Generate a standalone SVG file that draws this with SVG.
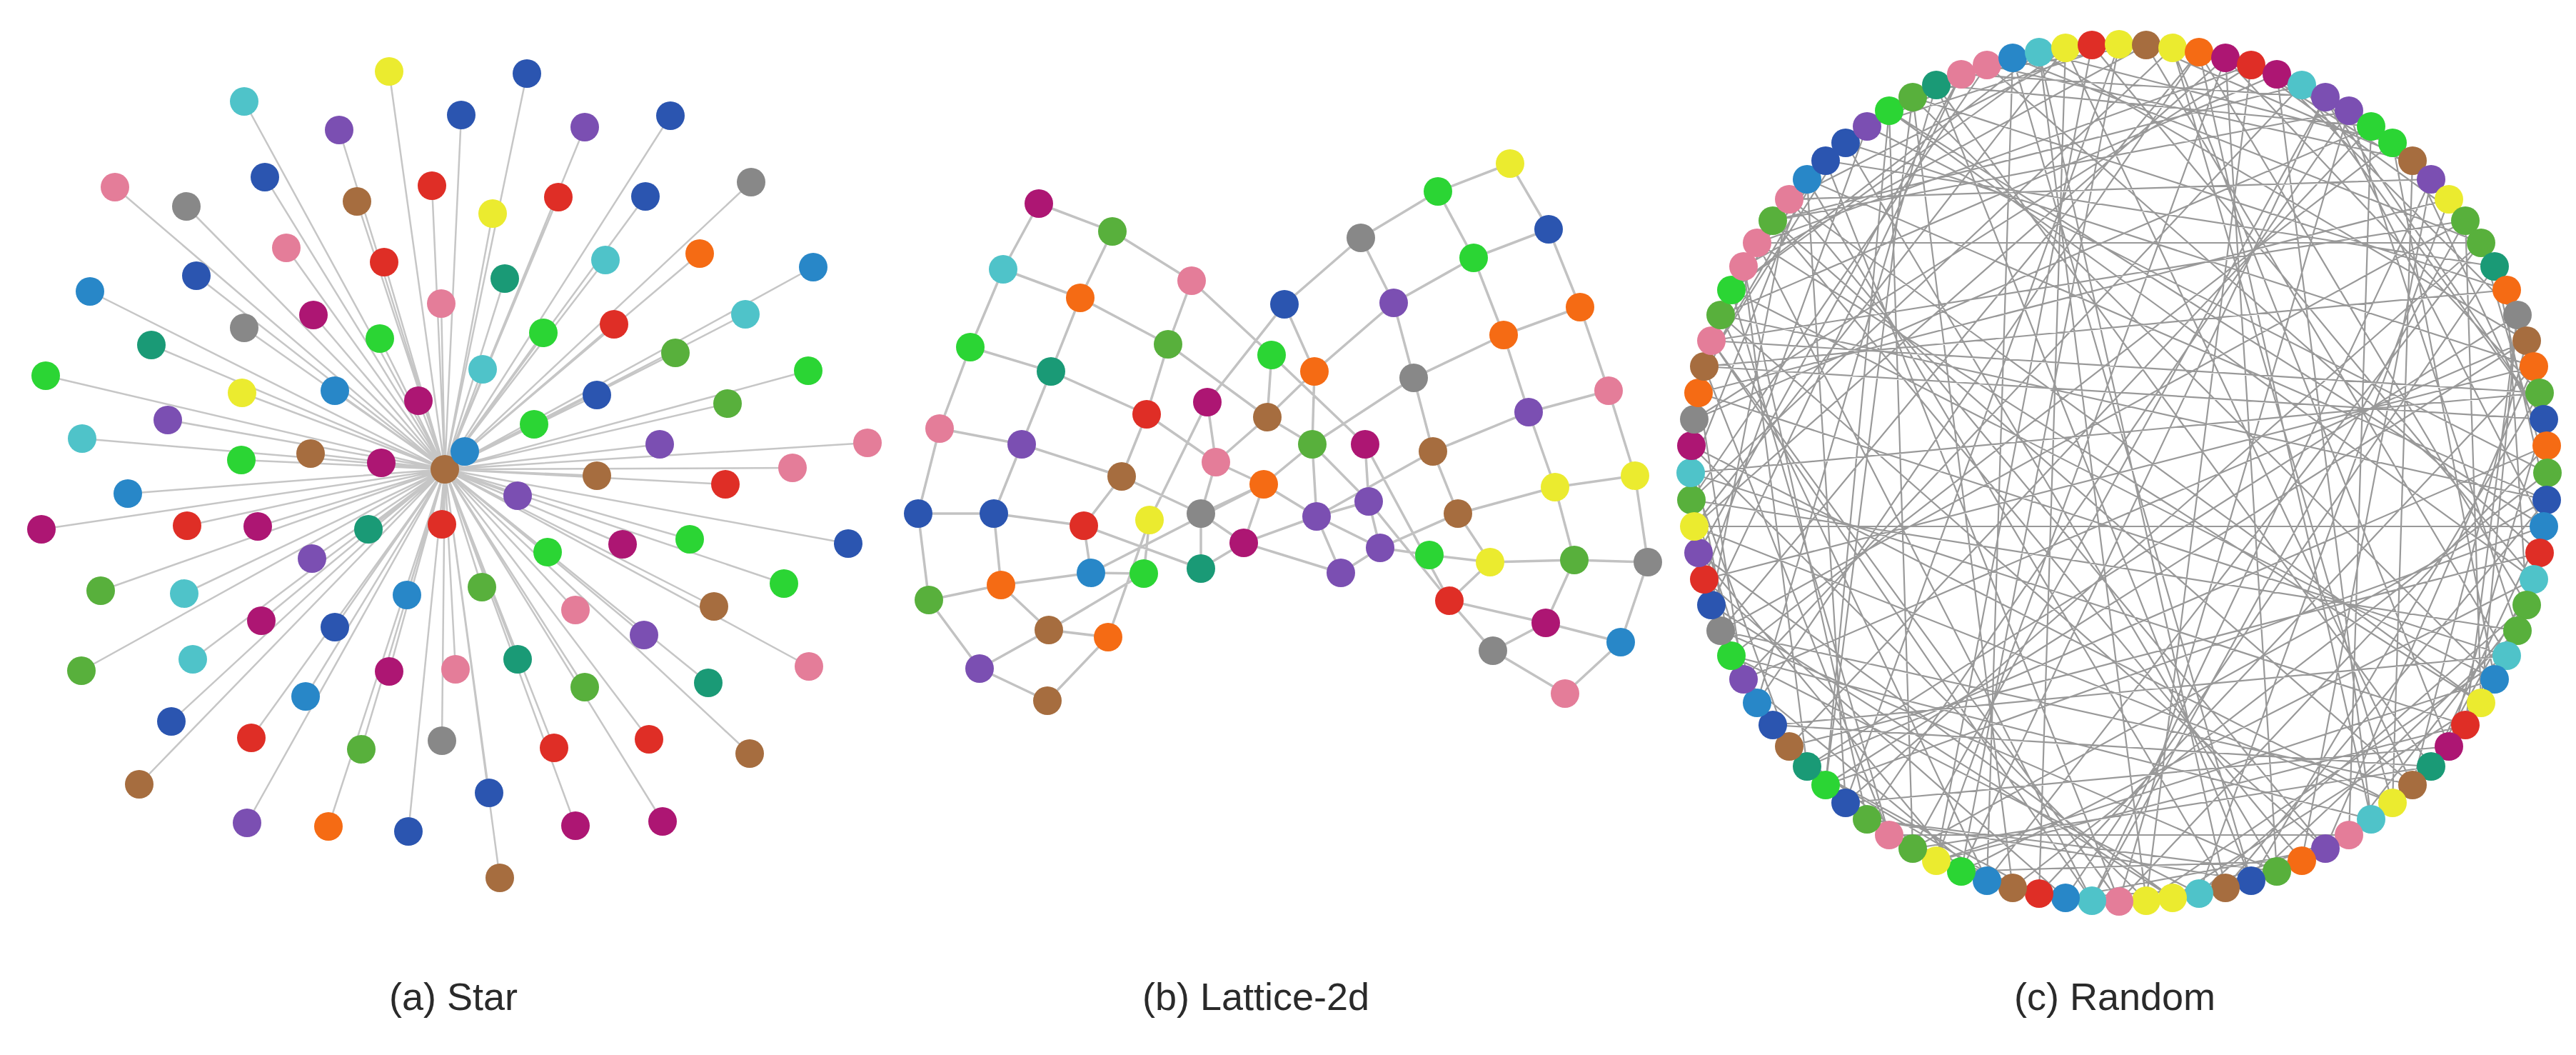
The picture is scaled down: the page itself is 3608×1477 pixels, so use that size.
<svg xmlns="http://www.w3.org/2000/svg" width="3608" height="1477" viewBox="0 0 3608 1477">
<style>
.bg{fill:#ffffff}
.es{stroke:#c6c6c6;stroke-width:2.5;fill:none}
.el{stroke:#c2c2c2;stroke-width:3.5;fill:none}
.er{stroke:#999999;stroke-width:2.2;fill:none}
circle{stroke:none}
.yel{fill:#ebeb2f}.cya{fill:#4fc3c9}.pur{fill:#7b4fb2}.pnk{fill:#e47d99}.gry{fill:#888888}.blu{fill:#2b55b0}.brn{fill:#a66d3f}.red{fill:#df2e26}.stb{fill:#2887c8}.mag{fill:#ad1673}.grn{fill:#2bd534}.tea{fill:#1a9a76}.olv{fill:#58b03c}.org{fill:#f56b14}
.lbl{font-family:"Liberation Sans","DejaVu Sans",sans-serif;font-size:54px;fill:#2a2a2a;text-anchor:middle}
</style>
<rect class="bg" x="0" y="0" width="3608" height="1477"/>
<g id="connectors">
<path id="star-edges" class="es" d="M623 657L545 100M623 657L342 142M623 657L475 182M623 657L161 262M623 657L261 289M623 657L371 248M623 657L500 282M623 657L605 260M623 657L401 347M623 657L538 367M623 657L275 386M623 657L126 408M623 657L439 441M623 657L618 425M623 657L342 459M623 657L532 474M623 657L212 483M623 657L64 526M623 657L339 550M623 657L469 547M623 657L586 561M623 657L235 588M623 657L115 614M623 657L435 635M623 657L338 644M623 657L534 648M623 657L179 691M623 657L651 632M623 657L738 103M623 657L646 161M623 657L819 178M623 657L939 162M623 657L690 299M623 657L782 276M623 657L904 275M623 657L1052 255M623 657L707 390M623 657L848 364M623 657L980 355M623 657L1139 374M623 657L761 466M623 657L860 454M623 657L1044 440M623 657L946 494M623 657L676 517M623 657L836 553M623 657L1132 519M623 657L1019 565M623 657L748 594M623 657L924 622M623 657L1215 620M623 657L836 666M623 657L1110 655M623 657L1016 678M623 657L725 694M623 657L58 741M623 657L262 736M623 657L361 737M623 657L516 741M623 657L619 734M623 657L437 782M623 657L141 827M623 657L258 831M623 657L570 833M623 657L366 869M623 657L469 878M623 657L270 923M623 657L114 939M623 657L545 940M623 657L638 937M623 657L428 975M623 657L240 1010M623 657L352 1033M623 657L506 1049M623 657L619 1037M623 657L195 1098M623 657L346 1152M623 657L460 1157M623 657L572 1164M623 657L767 773M623 657L872 762M623 657L966 755M623 657L1188 761M623 657L675 822M623 657L1098 817M623 657L1000 849M623 657L806 854M623 657L902 889M623 657L1133 933M623 657L725 923M623 657L819 962M623 657L992 956M623 657L776 1047M623 657L909 1035M623 657L1050 1055M623 657L685 1110M623 657L806 1156M623 657L928 1150M623 657L700 1229"/>
<path id="lattice-edges" class="el" d="M1455 285L1405 377M1405 377L1359 486M1359 486L1316 600M1316 600L1286 719M1286 719L1301 840M1301 840L1372 936M1372 936L1467 981M1558 324L1513 417M1513 417L1472 520M1472 520L1431 622M1431 622L1392 719M1392 719L1402 819M1402 819L1469 882M1469 882L1552 892M1669 393L1636 482M1636 482L1606 580M1606 580L1571 667M1571 667L1518 736M1518 736L1528 802M1528 802L1602 803M1602 803L1610 728M1455 285L1558 324M1558 324L1669 393M1405 377L1513 417M1513 417L1636 482M1359 486L1472 520M1472 520L1606 580M1316 600L1431 622M1431 622L1571 667M1286 719L1392 719M1392 719L1518 736M1301 840L1402 819M1402 819L1528 802M1372 936L1469 882M1469 882L1602 803M1467 981L1552 892M1552 892L1610 728M1669 393L1781 497M1781 497L1912 622M1781 497L1775 584M1636 482L1775 584M1775 584L1841 520M1775 584L1838 622M1775 584L1703 647M1799 426L1841 520M1799 426L1691 563M1799 426L1906 333M1841 520L1838 622M1841 520L1952 424M1838 622L1980 529M1838 622L1844 723M1838 622L1770 678M1606 580L1703 647M1691 563L1703 647M1691 563L1610 728M1703 647L1770 678M1703 647L1682 719M1571 667L1682 719M1682 719L1682 796M1682 719L1742 760M1682 719L1770 678M1518 736L1682 796M1682 796L1742 760M1770 678L1742 760M1770 678L1844 723M1742 760L1844 723M1742 760L1878 802M1844 723L1878 802M1844 723L1917 702M2007 632L1844 723M1912 622L1917 702M1912 622L2030 841M1917 702L2030 841M1917 702L1933 767M1933 767L1878 802M1933 767L2002 777M2002 777L2087 787M2042 719L1933 767M1528 802L1770 678M1844 723L1933 767M1917 702L1838 622M2115 229L2169 321M2169 321L2213 430M2213 430L2253 547M2253 547L2290 666M2290 666L2308 787M2308 787L2270 899M2270 899L2192 971M2014 268L2064 361M2064 361L2106 469M2106 469L2141 577M2141 577L2178 682M2178 682L2205 784M2205 784L2165 872M2165 872L2091 911M1906 333L1952 424M1952 424L1980 529M1980 529L2007 632M2007 632L2042 719M2042 719L2087 787M2087 787L2030 841M2115 229L2014 268M2014 268L1906 333M2169 321L2064 361M2064 361L1952 424M2213 430L2106 469M2106 469L1980 529M2253 547L2141 577M2141 577L2007 632M2290 666L2178 682M2178 682L2042 719M2308 787L2205 784M2205 784L2087 787M2270 899L2165 872M2165 872L2030 841M2192 971L2091 911M2091 911L2030 841"/>
<path id="random-edges" class="er" d="M3557 774L3494 951M3453 1015L2712 1205M3257 1188L2410 441M3006 1261L3153 91M2747 1220L3549 811M2531 1073L2856 1251M2397 847L2506 279M2373 587L3321 177M2461 340L3475 984M2646 155L2679 1188M2893 67L2425 406M3153 91L3453 309M3379 225L3351 1124M3526 441L2531 1073M3567 700L2531 251M3494 951L3351 200M3321 1147L3453 1015M3080 1251L2425 918M2819 1243L2679 136M2585 1124L3475 340M2425 918L3321 1147M2368 662L2506 1045M2425 406L2856 73M2585 200L3549 513M2819 81L3153 1233M3080 73L2410 883M3321 177L2712 119M3494 373L3567 700M3567 624L2968 1262M3526 883L2369 700M3379 1099L2893 67M3153 1233L3557 550M2893 1257L3117 1243M2646 1169L2387 513M2461 984L3080 73M2373 737L3563 737M2397 477L2930 1261M2531 251L2368 662M2747 104L3257 136M3006 63L3511 918M3257 136L2747 1220M3453 309L2397 477M3557 550L3117 81M3549 811L3405 1073M3430 1045L2585 1124M3224 1205L2483 309M2968 1262L3290 155M2712 1205L3494 951M2506 1045L2712 1205M2387 811L2615 177M2379 550L3430 279M2483 309L3379 1099M2679 136L2557 1099M2930 63L2506 279M3189 104L3526 441M3405 251L3224 1205M3539 477L2442 951M3563 737L2646 155M3475 984L3453 309M3290 1169L3043 1257M3043 1257L2379 774M2783 1233L2819 81M2557 1099L3539 477M2410 883L3189 1220M2369 624L2425 918M2442 373L3006 63M2615 177L3568 662M2856 73L3006 1261M3117 81L2373 737M3351 200L2856 73M3511 406L3539 847M3568 662L2819 1243M3511 918L2379 550M3351 1124L3043 67M3117 1243L3567 700M2856 1251L2646 1169M2615 1147L2442 373M2442 951L3224 119M2369 700L3526 883M2410 441L2783 1233M2557 225L2387 513M2783 91L3379 225M3043 67L3430 1045M3290 155L2615 1147M3475 340L2461 340M3563 587L3257 136M3539 847L3290 1169M3405 1073L2483 1015M3189 1220L2585 200M2930 1261L3405 251M2679 1188L3405 1073M2483 1015L2397 847M2379 774L2747 104M2387 513L3511 406M2506 279L3257 1188M2712 119L2461 984M2968 62L2615 177M3224 119L3563 587M3430 279L3080 1251M3549 513L2387 811M3557 774L2783 91M3453 1015L3526 441M3257 1188L2893 1257M3006 1261L2369 624M2747 1220L2968 62M2531 1073L3567 624M2397 847L3043 1257M2373 587L2379 774M2461 340L3153 91M2646 155L3549 811M2893 67L2856 1251M3153 91L2373 587M3379 225L3006 63M3526 441L3475 984M3567 700L2679 1188M3494 951L2425 406M3321 1147L3189 104M3080 1251L3539 847M2819 1243L2531 1073M2585 1124L2531 251M2425 918L3351 200M2368 662L3453 1015M2425 406L2646 1169M2585 200L2442 373M2819 81L3475 340M3080 73L3321 1147M3321 177L2506 1045M3494 373L2557 225M3567 624L3379 225M3526 883L3153 1233M3379 1099L2410 883M3153 1233L2712 119M2893 1257L3494 373M2646 1169L3290 1169M2461 984L2369 700M2373 737L2893 67M2397 477L3557 550M2531 251L3117 1243M2747 104L2397 847M3006 63L2747 104M3257 136L3563 737M3453 309L2930 1261M3557 550L2368 662M3549 811L2930 63M3430 1045L3563 587M3224 1205L2747 1220M2968 1262L2397 477M2712 1205L3117 81M2506 1045L3557 774M2387 811L2893 1257M2379 550L2483 309M2483 309L3290 155M2679 136L3494 951M2930 63L2712 1205M3189 104L2410 441M3405 251L3153 91M3539 477L3379 1099M3563 737L2557 1099M3475 984L2506 279M3290 1169L3321 177M3043 1257L3475 984M2783 1233L2442 951M2557 1099L2646 155M2410 883L3453 309M2369 624L3351 1124M2442 373L2531 1073M2615 177L2819 81M2856 73L3539 477M3117 81L3189 1220M3351 200L2425 918M3511 406L2679 136M3568 662L3475 340M3511 918L3006 1261M3351 1124L2373 737M3117 1243L2856 73M2856 1251L3549 513M2615 1147L3153 1233M2442 951L2379 550M2369 700L3043 67M2410 441L3567 700M2557 225L2968 1262M2783 91L2369 700M3043 67L3224 119M3290 155L3526 883M3475 340L2783 1233M3563 587L2387 513M3539 847L3080 73M3405 1073L3563 737M3189 1220L2615 1147M2930 1261L2461 340M2679 1188L3257 136M2483 1015L3511 918M2379 774L2747 1220M2387 513L2585 200M2506 279L3405 251M2712 119L3405 1073M2968 62L2585 1124M3224 119L2483 309M3430 279L3290 155M3549 513L3257 1188"/>
</g>
<g id="star-nodes">
<g id="star-center"><circle class="brn" cx="623" cy="657" r="20"/></g>
<g id="star-1"><circle class="yel" cx="545" cy="100" r="20"/></g>
<g id="star-2"><circle class="cya" cx="342" cy="142" r="20"/></g>
<g id="star-3"><circle class="pur" cx="475" cy="182" r="20"/></g>
<g id="star-4"><circle class="pnk" cx="161" cy="262" r="20"/></g>
<g id="star-5"><circle class="gry" cx="261" cy="289" r="20"/></g>
<g id="star-6"><circle class="blu" cx="371" cy="248" r="20"/></g>
<g id="star-7"><circle class="brn" cx="500" cy="282" r="20"/></g>
<g id="star-8"><circle class="red" cx="605" cy="260" r="20"/></g>
<g id="star-9"><circle class="pnk" cx="401" cy="347" r="20"/></g>
<g id="star-10"><circle class="red" cx="538" cy="367" r="20"/></g>
<g id="star-11"><circle class="blu" cx="275" cy="386" r="20"/></g>
<g id="star-12"><circle class="stb" cx="126" cy="408" r="20"/></g>
<g id="star-13"><circle class="mag" cx="439" cy="441" r="20"/></g>
<g id="star-14"><circle class="pnk" cx="618" cy="425" r="20"/></g>
<g id="star-15"><circle class="gry" cx="342" cy="459" r="20"/></g>
<g id="star-16"><circle class="grn" cx="532" cy="474" r="20"/></g>
<g id="star-17"><circle class="tea" cx="212" cy="483" r="20"/></g>
<g id="star-18"><circle class="grn" cx="64" cy="526" r="20"/></g>
<g id="star-19"><circle class="yel" cx="339" cy="550" r="20"/></g>
<g id="star-20"><circle class="stb" cx="469" cy="547" r="20"/></g>
<g id="star-21"><circle class="mag" cx="586" cy="561" r="20"/></g>
<g id="star-22"><circle class="pur" cx="235" cy="588" r="20"/></g>
<g id="star-23"><circle class="cya" cx="115" cy="614" r="20"/></g>
<g id="star-24"><circle class="brn" cx="435" cy="635" r="20"/></g>
<g id="star-25"><circle class="grn" cx="338" cy="644" r="20"/></g>
<g id="star-26"><circle class="mag" cx="534" cy="648" r="20"/></g>
<g id="star-27"><circle class="stb" cx="179" cy="691" r="20"/></g>
<g id="star-28"><circle class="stb" cx="651" cy="632" r="20"/></g>
<g id="star-29"><circle class="blu" cx="738" cy="103" r="20"/></g>
<g id="star-30"><circle class="blu" cx="646" cy="161" r="20"/></g>
<g id="star-31"><circle class="pur" cx="819" cy="178" r="20"/></g>
<g id="star-32"><circle class="blu" cx="939" cy="162" r="20"/></g>
<g id="star-33"><circle class="yel" cx="690" cy="299" r="20"/></g>
<g id="star-34"><circle class="red" cx="782" cy="276" r="20"/></g>
<g id="star-35"><circle class="blu" cx="904" cy="275" r="20"/></g>
<g id="star-36"><circle class="gry" cx="1052" cy="255" r="20"/></g>
<g id="star-37"><circle class="tea" cx="707" cy="390" r="20"/></g>
<g id="star-38"><circle class="cya" cx="848" cy="364" r="20"/></g>
<g id="star-39"><circle class="org" cx="980" cy="355" r="20"/></g>
<g id="star-40"><circle class="stb" cx="1139" cy="374" r="20"/></g>
<g id="star-41"><circle class="grn" cx="761" cy="466" r="20"/></g>
<g id="star-42"><circle class="red" cx="860" cy="454" r="20"/></g>
<g id="star-43"><circle class="cya" cx="1044" cy="440" r="20"/></g>
<g id="star-44"><circle class="olv" cx="946" cy="494" r="20"/></g>
<g id="star-45"><circle class="cya" cx="676" cy="517" r="20"/></g>
<g id="star-46"><circle class="blu" cx="836" cy="553" r="20"/></g>
<g id="star-47"><circle class="grn" cx="1132" cy="519" r="20"/></g>
<g id="star-48"><circle class="olv" cx="1019" cy="565" r="20"/></g>
<g id="star-49"><circle class="grn" cx="748" cy="594" r="20"/></g>
<g id="star-50"><circle class="pur" cx="924" cy="622" r="20"/></g>
<g id="star-51"><circle class="pnk" cx="1215" cy="620" r="20"/></g>
<g id="star-52"><circle class="brn" cx="836" cy="666" r="20"/></g>
<g id="star-53"><circle class="pnk" cx="1110" cy="655" r="20"/></g>
<g id="star-54"><circle class="red" cx="1016" cy="678" r="20"/></g>
<g id="star-55"><circle class="pur" cx="725" cy="694" r="20"/></g>
<g id="star-56"><circle class="mag" cx="58" cy="741" r="20"/></g>
<g id="star-57"><circle class="red" cx="262" cy="736" r="20"/></g>
<g id="star-58"><circle class="mag" cx="361" cy="737" r="20"/></g>
<g id="star-59"><circle class="tea" cx="516" cy="741" r="20"/></g>
<g id="star-60"><circle class="red" cx="619" cy="734" r="20"/></g>
<g id="star-61"><circle class="pur" cx="437" cy="782" r="20"/></g>
<g id="star-62"><circle class="olv" cx="141" cy="827" r="20"/></g>
<g id="star-63"><circle class="cya" cx="258" cy="831" r="20"/></g>
<g id="star-64"><circle class="stb" cx="570" cy="833" r="20"/></g>
<g id="star-65"><circle class="mag" cx="366" cy="869" r="20"/></g>
<g id="star-66"><circle class="blu" cx="469" cy="878" r="20"/></g>
<g id="star-67"><circle class="cya" cx="270" cy="923" r="20"/></g>
<g id="star-68"><circle class="olv" cx="114" cy="939" r="20"/></g>
<g id="star-69"><circle class="mag" cx="545" cy="940" r="20"/></g>
<g id="star-70"><circle class="pnk" cx="638" cy="937" r="20"/></g>
<g id="star-71"><circle class="stb" cx="428" cy="975" r="20"/></g>
<g id="star-72"><circle class="blu" cx="240" cy="1010" r="20"/></g>
<g id="star-73"><circle class="red" cx="352" cy="1033" r="20"/></g>
<g id="star-74"><circle class="olv" cx="506" cy="1049" r="20"/></g>
<g id="star-75"><circle class="gry" cx="619" cy="1037" r="20"/></g>
<g id="star-76"><circle class="brn" cx="195" cy="1098" r="20"/></g>
<g id="star-77"><circle class="pur" cx="346" cy="1152" r="20"/></g>
<g id="star-78"><circle class="org" cx="460" cy="1157" r="20"/></g>
<g id="star-79"><circle class="blu" cx="572" cy="1164" r="20"/></g>
<g id="star-80"><circle class="grn" cx="767" cy="773" r="20"/></g>
<g id="star-81"><circle class="mag" cx="872" cy="762" r="20"/></g>
<g id="star-82"><circle class="grn" cx="966" cy="755" r="20"/></g>
<g id="star-83"><circle class="blu" cx="1188" cy="761" r="20"/></g>
<g id="star-84"><circle class="olv" cx="675" cy="822" r="20"/></g>
<g id="star-85"><circle class="grn" cx="1098" cy="817" r="20"/></g>
<g id="star-86"><circle class="brn" cx="1000" cy="849" r="20"/></g>
<g id="star-87"><circle class="pnk" cx="806" cy="854" r="20"/></g>
<g id="star-88"><circle class="pur" cx="902" cy="889" r="20"/></g>
<g id="star-89"><circle class="pnk" cx="1133" cy="933" r="20"/></g>
<g id="star-90"><circle class="tea" cx="725" cy="923" r="20"/></g>
<g id="star-91"><circle class="olv" cx="819" cy="962" r="20"/></g>
<g id="star-92"><circle class="tea" cx="992" cy="956" r="20"/></g>
<g id="star-93"><circle class="red" cx="776" cy="1047" r="20"/></g>
<g id="star-94"><circle class="red" cx="909" cy="1035" r="20"/></g>
<g id="star-95"><circle class="brn" cx="1050" cy="1055" r="20"/></g>
<g id="star-96"><circle class="blu" cx="685" cy="1110" r="20"/></g>
<g id="star-97"><circle class="mag" cx="806" cy="1156" r="20"/></g>
<g id="star-98"><circle class="mag" cx="928" cy="1150" r="20"/></g>
<g id="star-99"><circle class="brn" cx="700" cy="1229" r="20"/></g>
</g>
<g id="lattice-nodes">
<g id="lat-A"><circle class="mag" cx="1455" cy="285" r="20"/></g>
<g id="lat-B"><circle class="olv" cx="1558" cy="324" r="20"/></g>
<g id="lat-C"><circle class="cya" cx="1405" cy="377" r="20"/></g>
<g id="lat-D"><circle class="org" cx="1513" cy="417" r="20"/></g>
<g id="lat-E"><circle class="pnk" cx="1669" cy="393" r="20"/></g>
<g id="lat-F"><circle class="grn" cx="1359" cy="486" r="20"/></g>
<g id="lat-G"><circle class="tea" cx="1472" cy="520" r="20"/></g>
<g id="lat-H"><circle class="olv" cx="1636" cy="482" r="20"/></g>
<g id="lat-I"><circle class="pnk" cx="1316" cy="600" r="20"/></g>
<g id="lat-J"><circle class="pur" cx="1431" cy="622" r="20"/></g>
<g id="lat-K"><circle class="red" cx="1606" cy="580" r="20"/></g>
<g id="lat-L"><circle class="brn" cx="1571" cy="667" r="20"/></g>
<g id="lat-M"><circle class="blu" cx="1286" cy="719" r="20"/></g>
<g id="lat-N"><circle class="blu" cx="1392" cy="719" r="20"/></g>
<g id="lat-O"><circle class="red" cx="1518" cy="736" r="20"/></g>
<g id="lat-P"><circle class="yel" cx="1610" cy="728" r="20"/></g>
<g id="lat-Q"><circle class="stb" cx="1528" cy="802" r="20"/></g>
<g id="lat-R"><circle class="grn" cx="1602" cy="803" r="20"/></g>
<g id="lat-S"><circle class="olv" cx="1301" cy="840" r="20"/></g>
<g id="lat-T"><circle class="org" cx="1402" cy="819" r="20"/></g>
<g id="lat-U"><circle class="brn" cx="1469" cy="882" r="20"/></g>
<g id="lat-V"><circle class="org" cx="1552" cy="892" r="20"/></g>
<g id="lat-W"><circle class="pur" cx="1372" cy="936" r="20"/></g>
<g id="lat-X"><circle class="brn" cx="1467" cy="981" r="20"/></g>
<g id="lat-Y"><circle class="mag" cx="1691" cy="563" r="20"/></g>
<g id="lat-Z"><circle class="pnk" cx="1703" cy="647" r="20"/></g>
<g id="lat-AA"><circle class="gry" cx="1682" cy="719" r="20"/></g>
<g id="lat-AB"><circle class="tea" cx="1682" cy="796" r="20"/></g>
<g id="lat-AC"><circle class="mag" cx="1742" cy="760" r="20"/></g>
<g id="lat-AD"><circle class="blu" cx="1799" cy="426" r="20"/></g>
<g id="lat-AE"><circle class="grn" cx="1781" cy="497" r="20"/></g>
<g id="lat-AF"><circle class="org" cx="1841" cy="520" r="20"/></g>
<g id="lat-AG"><circle class="brn" cx="1775" cy="584" r="20"/></g>
<g id="lat-AH"><circle class="olv" cx="1838" cy="622" r="20"/></g>
<g id="lat-AI"><circle class="org" cx="1770" cy="678" r="20"/></g>
<g id="lat-AJ"><circle class="pur" cx="1844" cy="723" r="20"/></g>
<g id="lat-AK"><circle class="pur" cx="1878" cy="802" r="20"/></g>
<g id="lat-M1"><circle class="mag" cx="1912" cy="622" r="20"/></g>
<g id="lat-P1"><circle class="pur" cx="1917" cy="702" r="20"/></g>
<g id="lat-P2"><circle class="pur" cx="1933" cy="767" r="20"/></g>
<g id="lat-G1"><circle class="grn" cx="2002" cy="777" r="20"/></g>
<g id="lat-r00"><circle class="yel" cx="2115" cy="229" r="20"/></g>
<g id="lat-r01"><circle class="grn" cx="2014" cy="268" r="20"/></g>
<g id="lat-r02"><circle class="gry" cx="1906" cy="333" r="20"/></g>
<g id="lat-r10"><circle class="blu" cx="2169" cy="321" r="20"/></g>
<g id="lat-r11"><circle class="grn" cx="2064" cy="361" r="20"/></g>
<g id="lat-r12"><circle class="pur" cx="1952" cy="424" r="20"/></g>
<g id="lat-r20"><circle class="org" cx="2213" cy="430" r="20"/></g>
<g id="lat-r21"><circle class="org" cx="2106" cy="469" r="20"/></g>
<g id="lat-r22"><circle class="gry" cx="1980" cy="529" r="20"/></g>
<g id="lat-r30"><circle class="pnk" cx="2253" cy="547" r="20"/></g>
<g id="lat-r31"><circle class="pur" cx="2141" cy="577" r="20"/></g>
<g id="lat-r32"><circle class="brn" cx="2007" cy="632" r="20"/></g>
<g id="lat-r40"><circle class="yel" cx="2290" cy="666" r="20"/></g>
<g id="lat-r41"><circle class="yel" cx="2178" cy="682" r="20"/></g>
<g id="lat-r42"><circle class="brn" cx="2042" cy="719" r="20"/></g>
<g id="lat-r50"><circle class="gry" cx="2308" cy="787" r="20"/></g>
<g id="lat-r51"><circle class="olv" cx="2205" cy="784" r="20"/></g>
<g id="lat-r52"><circle class="yel" cx="2087" cy="787" r="20"/></g>
<g id="lat-r60"><circle class="stb" cx="2270" cy="899" r="20"/></g>
<g id="lat-r61"><circle class="mag" cx="2165" cy="872" r="20"/></g>
<g id="lat-r62"><circle class="red" cx="2030" cy="841" r="20"/></g>
<g id="lat-r70"><circle class="pnk" cx="2192" cy="971" r="20"/></g>
<g id="lat-r71"><circle class="gry" cx="2091" cy="911" r="20"/></g>
</g>
<g id="random-nodes">
<g id="rnd-0"><circle class="olv" cx="2369" cy="700" r="20"/></g>
<g id="rnd-1"><circle class="cya" cx="2368" cy="662" r="20"/></g>
<g id="rnd-2"><circle class="mag" cx="2369" cy="624" r="20"/></g>
<g id="rnd-3"><circle class="gry" cx="2373" cy="587" r="20"/></g>
<g id="rnd-4"><circle class="org" cx="2379" cy="550" r="20"/></g>
<g id="rnd-5"><circle class="brn" cx="2387" cy="513" r="20"/></g>
<g id="rnd-6"><circle class="pnk" cx="2397" cy="477" r="20"/></g>
<g id="rnd-7"><circle class="olv" cx="2410" cy="441" r="20"/></g>
<g id="rnd-8"><circle class="grn" cx="2425" cy="406" r="20"/></g>
<g id="rnd-9"><circle class="pnk" cx="2442" cy="373" r="20"/></g>
<g id="rnd-10"><circle class="pnk" cx="2461" cy="340" r="20"/></g>
<g id="rnd-11"><circle class="olv" cx="2483" cy="309" r="20"/></g>
<g id="rnd-12"><circle class="pnk" cx="2506" cy="279" r="20"/></g>
<g id="rnd-13"><circle class="stb" cx="2531" cy="251" r="20"/></g>
<g id="rnd-14"><circle class="blu" cx="2557" cy="225" r="20"/></g>
<g id="rnd-15"><circle class="blu" cx="2585" cy="200" r="20"/></g>
<g id="rnd-16"><circle class="pur" cx="2615" cy="177" r="20"/></g>
<g id="rnd-17"><circle class="grn" cx="2646" cy="155" r="20"/></g>
<g id="rnd-18"><circle class="olv" cx="2679" cy="136" r="20"/></g>
<g id="rnd-19"><circle class="tea" cx="2712" cy="119" r="20"/></g>
<g id="rnd-20"><circle class="pnk" cx="2747" cy="104" r="20"/></g>
<g id="rnd-21"><circle class="pnk" cx="2783" cy="91" r="20"/></g>
<g id="rnd-22"><circle class="stb" cx="2819" cy="81" r="20"/></g>
<g id="rnd-23"><circle class="cya" cx="2856" cy="73" r="20"/></g>
<g id="rnd-24"><circle class="yel" cx="2893" cy="67" r="20"/></g>
<g id="rnd-25"><circle class="red" cx="2930" cy="63" r="20"/></g>
<g id="rnd-26"><circle class="yel" cx="2968" cy="62" r="20"/></g>
<g id="rnd-27"><circle class="brn" cx="3006" cy="63" r="20"/></g>
<g id="rnd-28"><circle class="yel" cx="3043" cy="67" r="20"/></g>
<g id="rnd-29"><circle class="org" cx="3080" cy="73" r="20"/></g>
<g id="rnd-30"><circle class="mag" cx="3117" cy="81" r="20"/></g>
<g id="rnd-31"><circle class="red" cx="3153" cy="91" r="20"/></g>
<g id="rnd-32"><circle class="mag" cx="3189" cy="104" r="20"/></g>
<g id="rnd-33"><circle class="cya" cx="3224" cy="119" r="20"/></g>
<g id="rnd-34"><circle class="pur" cx="3257" cy="136" r="20"/></g>
<g id="rnd-35"><circle class="pur" cx="3290" cy="155" r="20"/></g>
<g id="rnd-36"><circle class="grn" cx="3321" cy="177" r="20"/></g>
<g id="rnd-37"><circle class="grn" cx="3351" cy="200" r="20"/></g>
<g id="rnd-38"><circle class="brn" cx="3379" cy="225" r="20"/></g>
<g id="rnd-39"><circle class="pur" cx="3405" cy="251" r="20"/></g>
<g id="rnd-40"><circle class="yel" cx="3430" cy="279" r="20"/></g>
<g id="rnd-41"><circle class="olv" cx="3453" cy="309" r="20"/></g>
<g id="rnd-42"><circle class="olv" cx="3475" cy="340" r="20"/></g>
<g id="rnd-43"><circle class="tea" cx="3494" cy="373" r="20"/></g>
<g id="rnd-44"><circle class="org" cx="3511" cy="406" r="20"/></g>
<g id="rnd-45"><circle class="gry" cx="3526" cy="441" r="20"/></g>
<g id="rnd-46"><circle class="brn" cx="3539" cy="477" r="20"/></g>
<g id="rnd-47"><circle class="org" cx="3549" cy="513" r="20"/></g>
<g id="rnd-48"><circle class="olv" cx="3557" cy="550" r="20"/></g>
<g id="rnd-49"><circle class="blu" cx="3563" cy="587" r="20"/></g>
<g id="rnd-50"><circle class="org" cx="3567" cy="624" r="20"/></g>
<g id="rnd-51"><circle class="olv" cx="3568" cy="662" r="20"/></g>
<g id="rnd-52"><circle class="blu" cx="3567" cy="700" r="20"/></g>
<g id="rnd-53"><circle class="stb" cx="3563" cy="737" r="20"/></g>
<g id="rnd-54"><circle class="red" cx="3557" cy="774" r="20"/></g>
<g id="rnd-55"><circle class="cya" cx="3549" cy="811" r="20"/></g>
<g id="rnd-56"><circle class="olv" cx="3539" cy="847" r="20"/></g>
<g id="rnd-57"><circle class="olv" cx="3526" cy="883" r="20"/></g>
<g id="rnd-58"><circle class="cya" cx="3511" cy="918" r="20"/></g>
<g id="rnd-59"><circle class="stb" cx="3494" cy="951" r="20"/></g>
<g id="rnd-60"><circle class="yel" cx="3475" cy="984" r="20"/></g>
<g id="rnd-61"><circle class="red" cx="3453" cy="1015" r="20"/></g>
<g id="rnd-62"><circle class="mag" cx="3430" cy="1045" r="20"/></g>
<g id="rnd-63"><circle class="tea" cx="3405" cy="1073" r="20"/></g>
<g id="rnd-64"><circle class="brn" cx="3379" cy="1099" r="20"/></g>
<g id="rnd-65"><circle class="yel" cx="3351" cy="1124" r="20"/></g>
<g id="rnd-66"><circle class="cya" cx="3321" cy="1147" r="20"/></g>
<g id="rnd-67"><circle class="pnk" cx="3290" cy="1169" r="20"/></g>
<g id="rnd-68"><circle class="pur" cx="3257" cy="1188" r="20"/></g>
<g id="rnd-69"><circle class="org" cx="3224" cy="1205" r="20"/></g>
<g id="rnd-70"><circle class="olv" cx="3189" cy="1220" r="20"/></g>
<g id="rnd-71"><circle class="blu" cx="3153" cy="1233" r="20"/></g>
<g id="rnd-72"><circle class="brn" cx="3117" cy="1243" r="20"/></g>
<g id="rnd-73"><circle class="cya" cx="3080" cy="1251" r="20"/></g>
<g id="rnd-74"><circle class="yel" cx="3043" cy="1257" r="20"/></g>
<g id="rnd-75"><circle class="yel" cx="3006" cy="1261" r="20"/></g>
<g id="rnd-76"><circle class="pnk" cx="2968" cy="1262" r="20"/></g>
<g id="rnd-77"><circle class="cya" cx="2930" cy="1261" r="20"/></g>
<g id="rnd-78"><circle class="stb" cx="2893" cy="1257" r="20"/></g>
<g id="rnd-79"><circle class="red" cx="2856" cy="1251" r="20"/></g>
<g id="rnd-80"><circle class="brn" cx="2819" cy="1243" r="20"/></g>
<g id="rnd-81"><circle class="stb" cx="2783" cy="1233" r="20"/></g>
<g id="rnd-82"><circle class="grn" cx="2747" cy="1220" r="20"/></g>
<g id="rnd-83"><circle class="yel" cx="2712" cy="1205" r="20"/></g>
<g id="rnd-84"><circle class="olv" cx="2679" cy="1188" r="20"/></g>
<g id="rnd-85"><circle class="pnk" cx="2646" cy="1169" r="20"/></g>
<g id="rnd-86"><circle class="olv" cx="2615" cy="1147" r="20"/></g>
<g id="rnd-87"><circle class="blu" cx="2585" cy="1124" r="20"/></g>
<g id="rnd-88"><circle class="grn" cx="2557" cy="1099" r="20"/></g>
<g id="rnd-89"><circle class="tea" cx="2531" cy="1073" r="20"/></g>
<g id="rnd-90"><circle class="brn" cx="2506" cy="1045" r="20"/></g>
<g id="rnd-91"><circle class="blu" cx="2483" cy="1015" r="20"/></g>
<g id="rnd-92"><circle class="stb" cx="2461" cy="984" r="20"/></g>
<g id="rnd-93"><circle class="pur" cx="2442" cy="951" r="20"/></g>
<g id="rnd-94"><circle class="grn" cx="2425" cy="918" r="20"/></g>
<g id="rnd-95"><circle class="gry" cx="2410" cy="883" r="20"/></g>
<g id="rnd-96"><circle class="blu" cx="2397" cy="847" r="20"/></g>
<g id="rnd-97"><circle class="red" cx="2387" cy="811" r="20"/></g>
<g id="rnd-98"><circle class="pur" cx="2379" cy="774" r="20"/></g>
<g id="rnd-99"><circle class="yel" cx="2373" cy="737" r="20"/></g>
</g>
<g id="labels">
<text class="lbl" x="635" y="1414">(a) Star</text>
<text class="lbl" x="1759" y="1414">(b) Lattice-2d</text>
<text class="lbl" x="2962" y="1414">(c) Random</text>
</g>
</svg>
